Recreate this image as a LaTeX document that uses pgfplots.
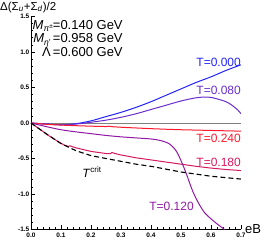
\documentclass[border=0pt]{standalone}
\usepackage{fontspec}
\setmainfont{Liberation Sans}
\usepackage{pgfplots}
\pgfplotsset{compat=1.18}
\definecolor{cA}{RGB}{35,35,255}
\definecolor{cB}{RGB}{105,45,205}
\definecolor{cC}{RGB}{255,25,45}
\definecolor{cD}{RGB}{215,25,95}
\definecolor{cE}{RGB}{145,25,165}
\begin{document}
\begin{tikzpicture}
\path[use as bounding box] (-31pt,-10.5pt) rectangle (235pt,229.5pt);
\begin{axis}[
  at={(0pt,0pt)}, anchor=south west,
  scale only axis, width=210pt, height=213pt,
  xmin=0, xmax=0.7, ymin=-1.5, ymax=1.5,
  axis lines=left, axis line style={-, line width=0.8pt},
  tick align=inside,
  xtick={0,0.1,0.2,0.3,0.4,0.5,0.6,0.7}, ytick={-1.5,-1,-0.5,0,0.5,1,1.5},
  minor x tick num=4, minor y tick num=4,
  major tick length=4pt, minor tick length=2pt,
  tick style={black, line width=0.6pt},
  ticklabel style={font=\fontsize{6.5}{7}\selectfont\bfseries},
  /pgf/number format/assume math mode=true,
  xticklabel style={/pgf/number format/.cd, fixed, fixed zerofill, precision=1},
  yticklabel style={inner sep=1.5pt, /pgf/number format/.cd, fixed, fixed zerofill, precision=1},
  clip=true,
]
\addplot[gray, line width=0.7pt] coordinates {(0,0) (0.7,0)};
% T=0.000
\addplot[cA, line width=1pt, smooth] coordinates {
(0,0)(0.05,-0.015)(0.1,-0.025)(0.15,-0.01)(0.2,0.03)(0.25,0.09)(0.3,0.15)(0.35,0.22)(0.4,0.3)(0.45,0.39)(0.5,0.48)(0.55,0.57)(0.6,0.65)(0.65,0.74)(0.7,0.82)};
% T=0.080
\addplot[cB, line width=1pt, smooth] coordinates {
(0,0)(0.05,-0.015)(0.1,-0.025)(0.15,-0.015)(0.2,0.01)(0.25,0.04)(0.3,0.08)(0.35,0.13)(0.4,0.19)(0.45,0.25)(0.5,0.31)(0.55,0.355)(0.58,0.365)(0.6,0.36)(0.62,0.34)(0.65,0.3)(0.67,0.25)(0.69,0.18)(0.7,0.13)};
% T=0.240
\addplot[cC, line width=1pt] coordinates {
(0,0)(0.05,-0.018)(0.1,-0.03)(0.15,-0.038)(0.2,-0.045)(0.25,-0.05)(0.26,-0.045)(0.27,-0.052)(0.3,-0.06)(0.35,-0.07)(0.4,-0.08)(0.45,-0.088)(0.5,-0.095)(0.55,-0.1)(0.6,-0.105)(0.65,-0.11)(0.7,-0.115)};
% T=0.180
\addplot[cD, line width=1pt] coordinates {
(0,0)(0.03,-0.09)(0.06,-0.18)(0.09,-0.26)(0.11,-0.31)(0.125,-0.33)(0.13,-0.32)(0.135,-0.33)(0.15,-0.35)(0.2,-0.40)(0.25,-0.43)(0.265,-0.43)(0.27,-0.415)(0.28,-0.43)(0.3,-0.45)(0.35,-0.49)(0.4,-0.52)(0.45,-0.55)(0.5,-0.58)(0.55,-0.61)(0.6,-0.635)(0.65,-0.655)(0.7,-0.67)};
% T=0.120
\addplot[cE, line width=1pt, smooth] coordinates {
(0,0)(0.05,-0.05)(0.1,-0.095)(0.15,-0.125)(0.2,-0.15)(0.25,-0.175)(0.3,-0.195)(0.35,-0.21)(0.4,-0.225)(0.43,-0.245)(0.46,-0.29)(0.48,-0.37)(0.49,-0.44)(0.5,-0.53)(0.51,-0.63)(0.52,-0.74)(0.53,-0.86)(0.54,-0.97)(0.55,-1.06)(0.56,-1.14)(0.57,-1.21)(0.58,-1.27)(0.6,-1.35)(0.62,-1.42)(0.645,-1.5)};
% Tcrit
\addplot[black, line width=1.1pt, dash pattern=on 5pt off 3pt] coordinates {
(0,0)(0.05,-0.15)(0.1,-0.29)(0.15,-0.39)(0.2,-0.46)(0.25,-0.5)(0.3,-0.54)(0.35,-0.58)(0.4,-0.61)(0.45,-0.65)(0.5,-0.69)(0.55,-0.72)(0.6,-0.75)(0.65,-0.77)(0.7,-0.79)};
\end{axis}
\begin{scope}[every node/.style={inner sep=0pt}]
\def\fs{\fontsize{12}{13.5}\selectfont}
% coordinates: tikz x = px-31, tikz y = 229.5-py
\node[cA, anchor=east] at (210pt,167.5pt) {\fs T=0.000};
\node[cB, anchor=east] at (210pt,139.5pt) {\fs T=0.080};
\node[cC, anchor=east] at (210pt,91.5pt) {\fs T=0.240};
\node[cD, anchor=east] at (210pt,67.5pt) {\fs T=0.180};
\node[cE] at (140.5pt,23.5pt) {\fs T=0.120};
\node at (61pt,57.5pt) {\fontsize{12}{13}\selectfont\textit{T}\textsuperscript{crit}};
\node[anchor=west] at (214pt,0pt) {\fontsize{13}{14}\selectfont eB};
\node[anchor=north west] at (-31pt,228pt) {\fontsize{11.5}{13}\selectfont Δ(Σ\textsubscript{\textit{u}}+Σ\textsubscript{\textit{d}})/2};
\node[anchor=north west] at (1.5pt,210pt) {\fontsize{13}{13.5}\selectfont
\begin{tabular}{@{}r@{}l@{}}
\textit{M}\raisebox{-0.35ex}{\fontsize{8.5}{8.5}\selectfont\textit{π}\raisebox{0.7ex}{\fontsize{6.5}{6.5}\selectfont ±}} & =0.140 GeV\\
\textit{M}\raisebox{-0.35ex}{\fontsize{8.5}{8.5}\selectfont\textit{η}'}\, & =0.958 GeV\\
Λ\, & =0.600 GeV
\end{tabular}};
\end{scope}
\end{tikzpicture}
\end{document}
